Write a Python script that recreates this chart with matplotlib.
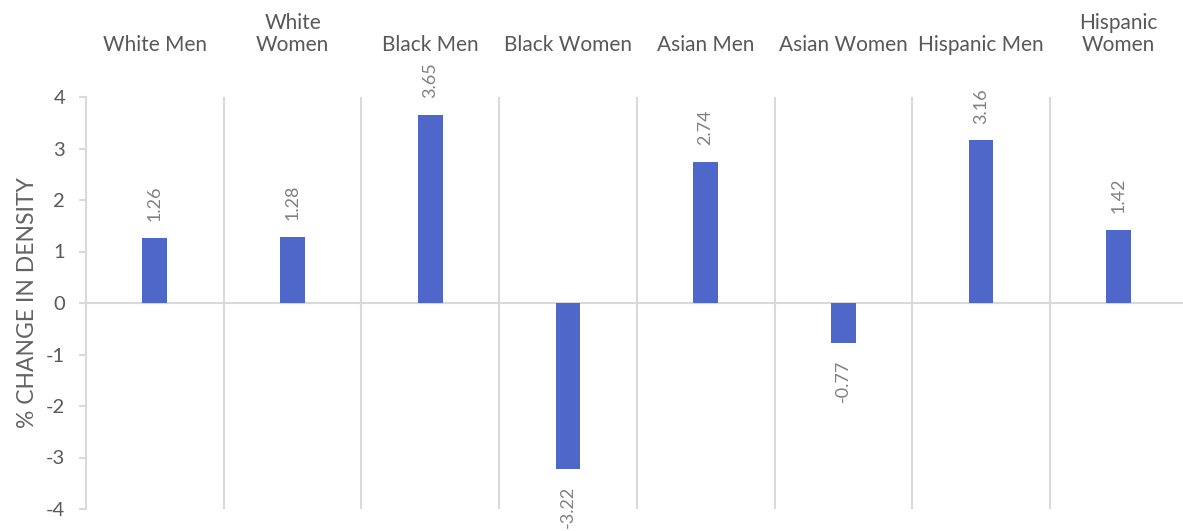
import matplotlib
matplotlib.use("Agg")
import matplotlib.pyplot as plt
import matplotlib.transforms as mtransforms
import numpy as np

# chart data
groups = ["White Men", "White\nWomen", "Black Men", "Black Women", "Asian Men",
          "Asian Women", "Hispanic Men", "Hispanic\nWomen"]
change = [1.26, 1.28, 3.65, -3.22, 2.74, -0.77, 3.16, 1.42]
yticks = [-4, -3, -2, -1, 0, 1, 2, 3, 4]

plt.rcParams['font.family'] = ['Lato', 'DejaVu Sans']
plt.rcParams['axes.unicode_minus'] = False

bar_color = '#4F67C8'
grid_color = '#D9D9D9'
text_color = '#595959'
label_color = '#808080'

fig = plt.figure(figsize=(11.83, 5.31), dpi=100)
ax = fig.add_axes([86 / 1183, 22 / 531, 1101.6 / 1183, 412 / 531])

x = np.arange(len(groups))
ax.bar(x, change, width=0.18, color=bar_color, zorder=3)

ax.set_xlim(-0.5, len(groups) - 0.5)
ax.set_ylim(-4, 4)

# category separators and zero line
for sep in np.arange(0.5, len(groups) - 0.5, 1):
    ax.axvline(sep, color=grid_color, lw=1.5, zorder=1)
ax.axhline(0, color=grid_color, lw=1.5, zorder=2)

# axes styling
for s in ['top', 'right', 'bottom']:
    ax.spines[s].set_visible(False)
ax.spines['left'].set_color(grid_color)
ax.spines['left'].set_linewidth(1.5)
ax.set_xticks([])
ax.set_yticks(yticks)
ax.set_yticklabels([str(v) for v in yticks])
ax.tick_params(axis='y', colors=grid_color, labelcolor=text_color,
               labelsize=14.5, length=5, width=1.5, pad=10)
ax.set_ylabel('% CHANGE IN DENSITY', fontsize=16.5, color='#636363', labelpad=6)

# category labels above the plot
trans = mtransforms.blended_transform_factory(ax.transData, ax.transAxes)
for xi, g in zip(x, groups):
    ax.text(xi, 1.102, g, transform=trans, ha='center', va='bottom',
            fontsize=15, color=text_color, linespacing=1.15)

# data labels
for xi, v in zip(x, change):
    off = 12 if v >= 0 else -12
    ax.annotate(f'{v:.2f}', (xi, v), xytext=(0, off), textcoords='offset points',
                ha='center', va='bottom' if v >= 0 else 'top', rotation=90,
                fontsize=13, color=label_color, annotation_clip=False)

fig.savefig('out.png', dpi=100)
